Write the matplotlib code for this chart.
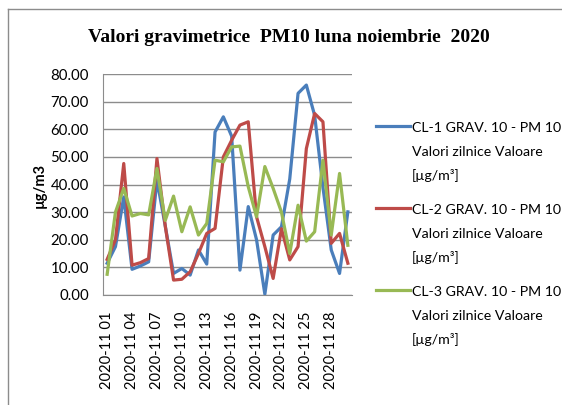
import matplotlib.pyplot as plt
from matplotlib.lines import Line2D

days = ['2020-11 %02d' % d for d in range(1, 31)]

cl1 = [11.5, 17.5, 35.5, 9.3, 10.5, 12.0, 41.6, 25.0, 7.8, 9.6,
       7.2, 16.3, 11.2, 59.0, 64.5, 57.5, 9.0, 32.0, 20.0, 0.3,
       21.7, 24.7, 42.0, 73.0, 76.0, 65.0, 39.0, 16.3, 7.8, 30.1]
cl2 = [12.9, 20.0, 47.6, 10.8, 11.7, 13.2, 49.4, 25.0, 5.4, 5.7,
       8.4, 15.0, 22.3, 24.1, 50.0, 56.0, 61.5, 62.7, 28.3, 17.5,
       6.0, 24.0, 12.7, 17.5, 53.0, 65.7, 62.7, 18.7, 22.3, 11.5]
cl3 = [7.5, 30.0, 38.6, 28.6, 29.5, 29.0, 45.8, 27.0, 35.8, 22.9,
       31.9, 21.7, 25.9, 48.8, 48.2, 53.6, 53.9, 39.2, 28.3, 46.5,
       38.6, 30.0, 15.0, 32.5, 19.5, 22.9, 48.8, 21.7, 44.0, 18.0]

series_names = ['CL-1 GRAV. 10 - PM 10', 'CL-2 GRAV. 10 - PM 10', 'CL-3 GRAV. 10 - PM 10']
colors = ['#4A7EBB', '#BE4B48', '#98B954']

W, H = 562, 405
fig = plt.figure(figsize=(W / 100, H / 100), dpi=100)
ax = fig.add_axes([103 / W, 1 - 295 / H, 249 / W, 221 / H])

x = list(range(len(days)))
for vals, c in zip([cl1, cl2, cl3], colors):
    ax.plot(x, vals, color=c, lw=2.3, solid_joinstyle='round', zorder=3)

ax.set_xlim(-0.5, 29.5)
ax.set_ylim(0, 80)
ax.set_yticks(range(0, 81, 10))
ax.set_yticklabels(['%.2f' % v for v in range(0, 81, 10)], family='Lato', fontsize=10.8)
ax.set_xticks(x[::3])
ax.set_xticklabels(days[::3], rotation=90, family='Lato', fontsize=10.6)
ax.tick_params(axis='y', length=0, pad=10)
ax.tick_params(axis='x', length=0, pad=12)
ax.grid(axis='y', color='#8c8c8c', lw=1)
for s in ['top', 'right']:
    ax.spines[s].set_visible(False)
for s in ['left', 'bottom']:
    ax.spines[s].set_color('#8c8c8c')
ax.set_axisbelow(True)

fig.text(289 / W, 1 - 38 / H, 'Valori gravimetrice  PM10 luna noiembrie  2020',
         family='Liberation Serif', fontweight='bold', fontsize=14,
         ha='center', va='center')
fig.text(40 / W, 1 - 185 / H, 'µg/m3', family='Lato', fontweight='bold',
         fontsize=10.5, rotation=90, ha='center', va='center')

# legend drawn by hand: handle sits next to the first line of each entry
for i, (name, c) in enumerate(zip(series_names, colors)):
    y0 = 126 + i * 82
    fig.add_artist(Line2D([376 / W, 410 / W], [1 - y0 / H, 1 - y0 / H], color=c, lw=2.3))
    for j, t in enumerate([name, 'Valori zilnice Valoare', '[µg/m³]']):
        fig.text(412 / W, 1 - (y0 + 2 + j * 24) / H, t, family='Lato',
                 fontsize=10.2, ha='left', va='center')

# chart area border (top and left visible)
fig.add_artist(Line2D([8 / W, 8 / W], [0, 1 - 9 / H], color='#8c8c8c', lw=1))
fig.add_artist(Line2D([8 / W, 1], [1 - 9 / H, 1 - 9 / H], color='#8c8c8c', lw=1))

fig.savefig('out.png', dpi=100)
